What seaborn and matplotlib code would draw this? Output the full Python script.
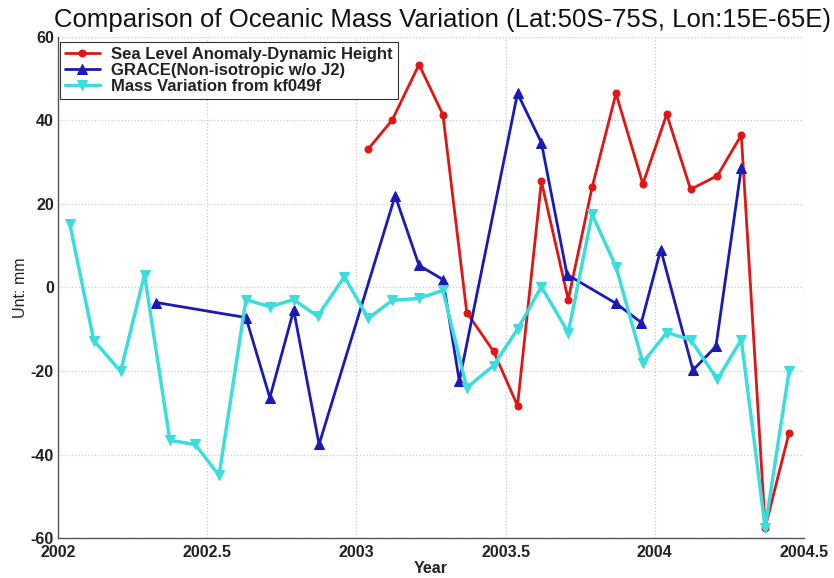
import numpy as np
import pandas as pd
import matplotlib
matplotlib.use("Agg")
import matplotlib.pyplot as plt
import seaborn as sns
from matplotlib.ticker import FormatStrFormatter

# Sea Level Anomaly - Dynamic Height (monthly, Jan 2003 - Jun 2004)
sla_year = [2003.04, 2003.12, 2003.21, 2003.29, 2003.37, 2003.46, 2003.54, 2003.62, 2003.71,
            2003.79, 2003.87, 2003.96, 2004.04, 2004.12, 2004.21, 2004.29, 2004.37, 2004.45]
sla_mm = [33.2, 40.1, 53.4, 41.4, -6.0, -15.3, -28.3, 25.4, -2.9,
          24.0, 46.5, 24.8, 41.5, 23.5, 26.8, 36.5, -57.5, -34.8]

# GRACE (Non-isotropic w/o J2)
grace_year = [2002.33, 2002.63, 2002.71, 2002.79, 2002.875, 2003.13, 2003.21, 2003.29, 2003.345,
              2003.54, 2003.62, 2003.706, 2003.87, 2003.955, 2004.02, 2004.128, 2004.205, 2004.29]
grace_mm = [-3.6, -7.2, -26.4, -5.4, -37.6, 22.0, 5.3, 1.9, -22.4,
            46.5, 34.7, 3.1, -3.8, -8.4, 9.1, -19.8, -14.1, 28.7]

# Mass Variation from kf049f (monthly, Jan 2002 - Jun 2004)
kf_year = [2002.04, 2002.12, 2002.21, 2002.29, 2002.375, 2002.46, 2002.54, 2002.63, 2002.71, 2002.79,
           2002.87, 2002.96, 2003.04, 2003.12, 2003.21, 2003.29, 2003.37, 2003.46, 2003.54, 2003.62,
           2003.71, 2003.79, 2003.87, 2003.96, 2004.04, 2004.12, 2004.21, 2004.29, 2004.37, 2004.45]
kf_mm = [15.1, -12.7, -20.1, 3.1, -36.6, -37.6, -45.0, -2.9, -4.6, -2.9,
         -6.9, 2.6, -7.4, -3.1, -2.6, -0.7, -24.0, -18.7, -10.0, 0.2,
         -10.8, 17.5, 5.0, -18.0, -10.8, -12.5, -22.0, -12.5, -57.5, -20.1]

title = "Comparison of Oceanic Mass Variation (Lat:50S-75S, Lon:15E-65E)"
labels = ["Sea Level Anomaly-Dynamic Height", "GRACE(Non-isotropic w/o J2)", "Mass Variation from kf049f"]

sns.set_style("whitegrid", {"grid.color": "#c8c8c8", "grid.linestyle": ":",
                            "axes.edgecolor": "#555555"})
plt.rcParams["font.family"] = ["Liberation Sans", "DejaVu Sans"]
plt.rcParams["axes.unicode_minus"] = False

fig = plt.figure(figsize=(8.34, 5.78), dpi=100)
ax = fig.add_axes([0.0695, 0.0692, 0.8945, 0.8668])

sns.lineplot(x=sla_year, y=sla_mm, ax=ax, color="#e01515", lw=2.0, marker="o", ms=5,
             mec="#e01515", label=labels[0], estimator=None)
sns.lineplot(x=grace_year, y=grace_mm, ax=ax, color="#1a1ab4", lw=2.0, marker="^", ms=6.5,
             mec="#1a1ab4", label=labels[1], estimator=None)
sns.lineplot(x=kf_year, y=kf_mm, ax=ax, color="#3ddddd", lw=2.5, marker="v", ms=6.5,
             mec="#3ddddd", label=labels[2], estimator=None)

ax.set_xlim(2002, 2004.5)
ax.set_ylim(-60, 60)
ax.set_xticks([2002, 2002.5, 2003, 2003.5, 2004, 2004.5])
ax.set_yticks([-60, -40, -20, 0, 20, 40, 60])
ax.xaxis.set_major_formatter(FormatStrFormatter("%g"))
ax.grid(True, lw=0.9)
ax.spines["top"].set_visible(False)
ax.spines["right"].set_visible(False)
ax.spines["left"].set_linewidth(1.0)
ax.spines["bottom"].set_linewidth(1.0)
ax.tick_params(axis="both", direction="in", length=4, width=0.8, colors="#555555",
               labelcolor="#222222", labelsize=11.5)
ax.tick_params(axis="x", pad=5)
ax.tick_params(axis="y", pad=3)
for t in ax.get_xticklabels() + ax.get_yticklabels():
    t.set_fontweight("bold")

ax.set_xlabel("Year", fontsize=11.5, color="#222222", fontweight="bold", labelpad=1)
ax.set_ylabel("Unt: mm", fontsize=11.5, color="#222222", labelpad=2)
fig.suptitle(title, fontsize=18.5, x=0.531, y=0.987, color="#111111")

leg = ax.legend(loc="upper left", bbox_to_anchor=(0.0, 0.993),
                prop={"size": 12, "weight": "bold"},
                frameon=True, fancybox=False, edgecolor="#333333", framealpha=1,
                labelspacing=0.06, handlelength=2.1, handletextpad=0.7,
                borderpad=0.3, borderaxespad=0.1)
leg.get_frame().set_linewidth(0.8)
for t in leg.get_texts():
    t.set_color("#222222")

fig.savefig("out.png", dpi=100)
